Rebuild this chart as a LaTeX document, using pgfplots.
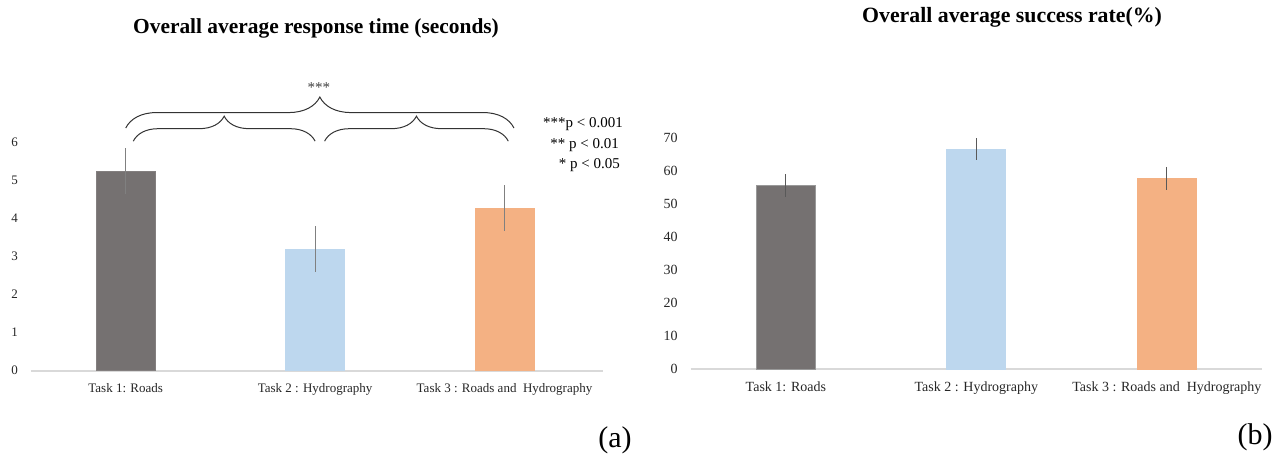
\documentclass[border=0pt]{standalone}
\usepackage{pgfplots}
\pgfplotsset{compat=1.18}
\usepackage{fontspec}
\setmainfont{Liberation Serif}
\usetikzlibrary{decorations.pathreplacing}
\definecolor{cA}{HTML}{757171}
\definecolor{cB}{HTML}{BDD7EE}
\definecolor{cC}{HTML}{F4B183}
\begin{document}
\begin{tikzpicture}
\path[use as bounding box] (0pt,0pt) rectangle (639pt,231pt);
\pgfplotsset{
  common/.style={
    scale only axis, ybar, bar width=29.5pt, bar shift=0pt,
    ymin=0, clip=false,
    axis x line*=bottom, axis y line*=left,
    x axis line style={draw=black!15, line width=0.8pt, -},
    y axis line style={draw=none},
    tick style={draw=none},
    xtick={0,1,2},
    xticklabels={Task 1: Roads, Task 2 : Hydrography, Task 3 : Roads and\ \ Hydrography},
    tick label style={font=\fontsize{6.5}{7}\selectfont, text=black!85},
    /pgf/number format/assume math mode=true,
    yticklabel style={xshift=-3pt},
    xticklabel style={yshift=1.5pt},
    error bars/y dir=both, error bars/y explicit,
    error bars/error mark=none,
    error bars/error bar style={line width=0.5pt, draw=black!50},
  }
}
% (a)
\begin{axis}[common, at={(15.5pt,45.65pt)}, anchor=south west,
  width=286pt, height=114.2pt, xmin=-0.5, xmax=2.52, ymax=6, ytick={0,1,...,6}]
\addplot[fill=cA, draw=cA!90!white] coordinates {(0,5.24) +- (0,0.6)};
\addplot[fill=cB, draw=cB] coordinates {(1,3.19) +- (0,0.61)};
\addplot[fill=cC, draw=cC] coordinates {(2,4.27) +- (0,0.6)};
\draw[decorate, decoration={brace, amplitude=15.5pt}, black!80, line width=0.5pt]
  (axis cs:0,6.375) -- (axis cs:2.05,6.375);
\draw[decorate, decoration={brace, amplitude=12.5pt}, black!80, line width=0.5pt]
  (axis cs:0.04,6.03) -- (axis cs:1.0,6.03);
\draw[decorate, decoration={brace, amplitude=12.5pt}, black!80, line width=0.5pt]
  (axis cs:1.05,6.03) -- (axis cs:2.02,6.03);
\node[font=\fontsize{7.5}{8}\selectfont, text=black!75] at (axis cs:1.02,7.43) {***};
\end{axis}
% (b)
\begin{axis}[common, at={(345.3pt,46.5pt)}, anchor=south west,
  width=285.75pt, height=115.5pt, xmin=-0.5, xmax=2.5, ymax=70, ytick={0,10,...,70},
  tick label style={font=\fontsize{7}{8}\selectfont},
  xticklabel style={yshift=0pt},
  error bars/error bar style={line width=0.6pt, draw=black!65}]
\addplot[fill=cA, draw=black!40] coordinates {(0,55.5) +- (0,3.5)};
\addplot[fill=cB, draw=cB] coordinates {(1,66.7) +- (0,3.3)};
\addplot[fill=cC, draw=cC] coordinates {(2,57.8) +- (0,3.5)};
\end{axis}
% titles and notes
\node[font=\bfseries\fontsize{10.7}{12}\selectfont] at (158pt,217pt) {Overall average response time (seconds)};
\node[font=\bfseries\fontsize{10.9}{12}\selectfont] at (506pt,222.5pt) {Overall average success rate(\%)};
\node[anchor=east, font=\fontsize{7.5}{8}\selectfont] at (315pt,169pt) {***p < 0.001};
\node[anchor=east, font=\fontsize{7.5}{8}\selectfont] at (313pt,158.5pt) {** p < 0.01};
\node[anchor=east, font=\fontsize{7.5}{8}\selectfont] at (313.5pt,148.5pt) {* p < 0.05};
\node[font=\fontsize{15}{16}\selectfont] at (307.5pt,11pt) {(a)};
\node[font=\fontsize{15}{16}\selectfont] at (627.5pt,12.5pt) {(b)};
\end{tikzpicture}
\end{document}
